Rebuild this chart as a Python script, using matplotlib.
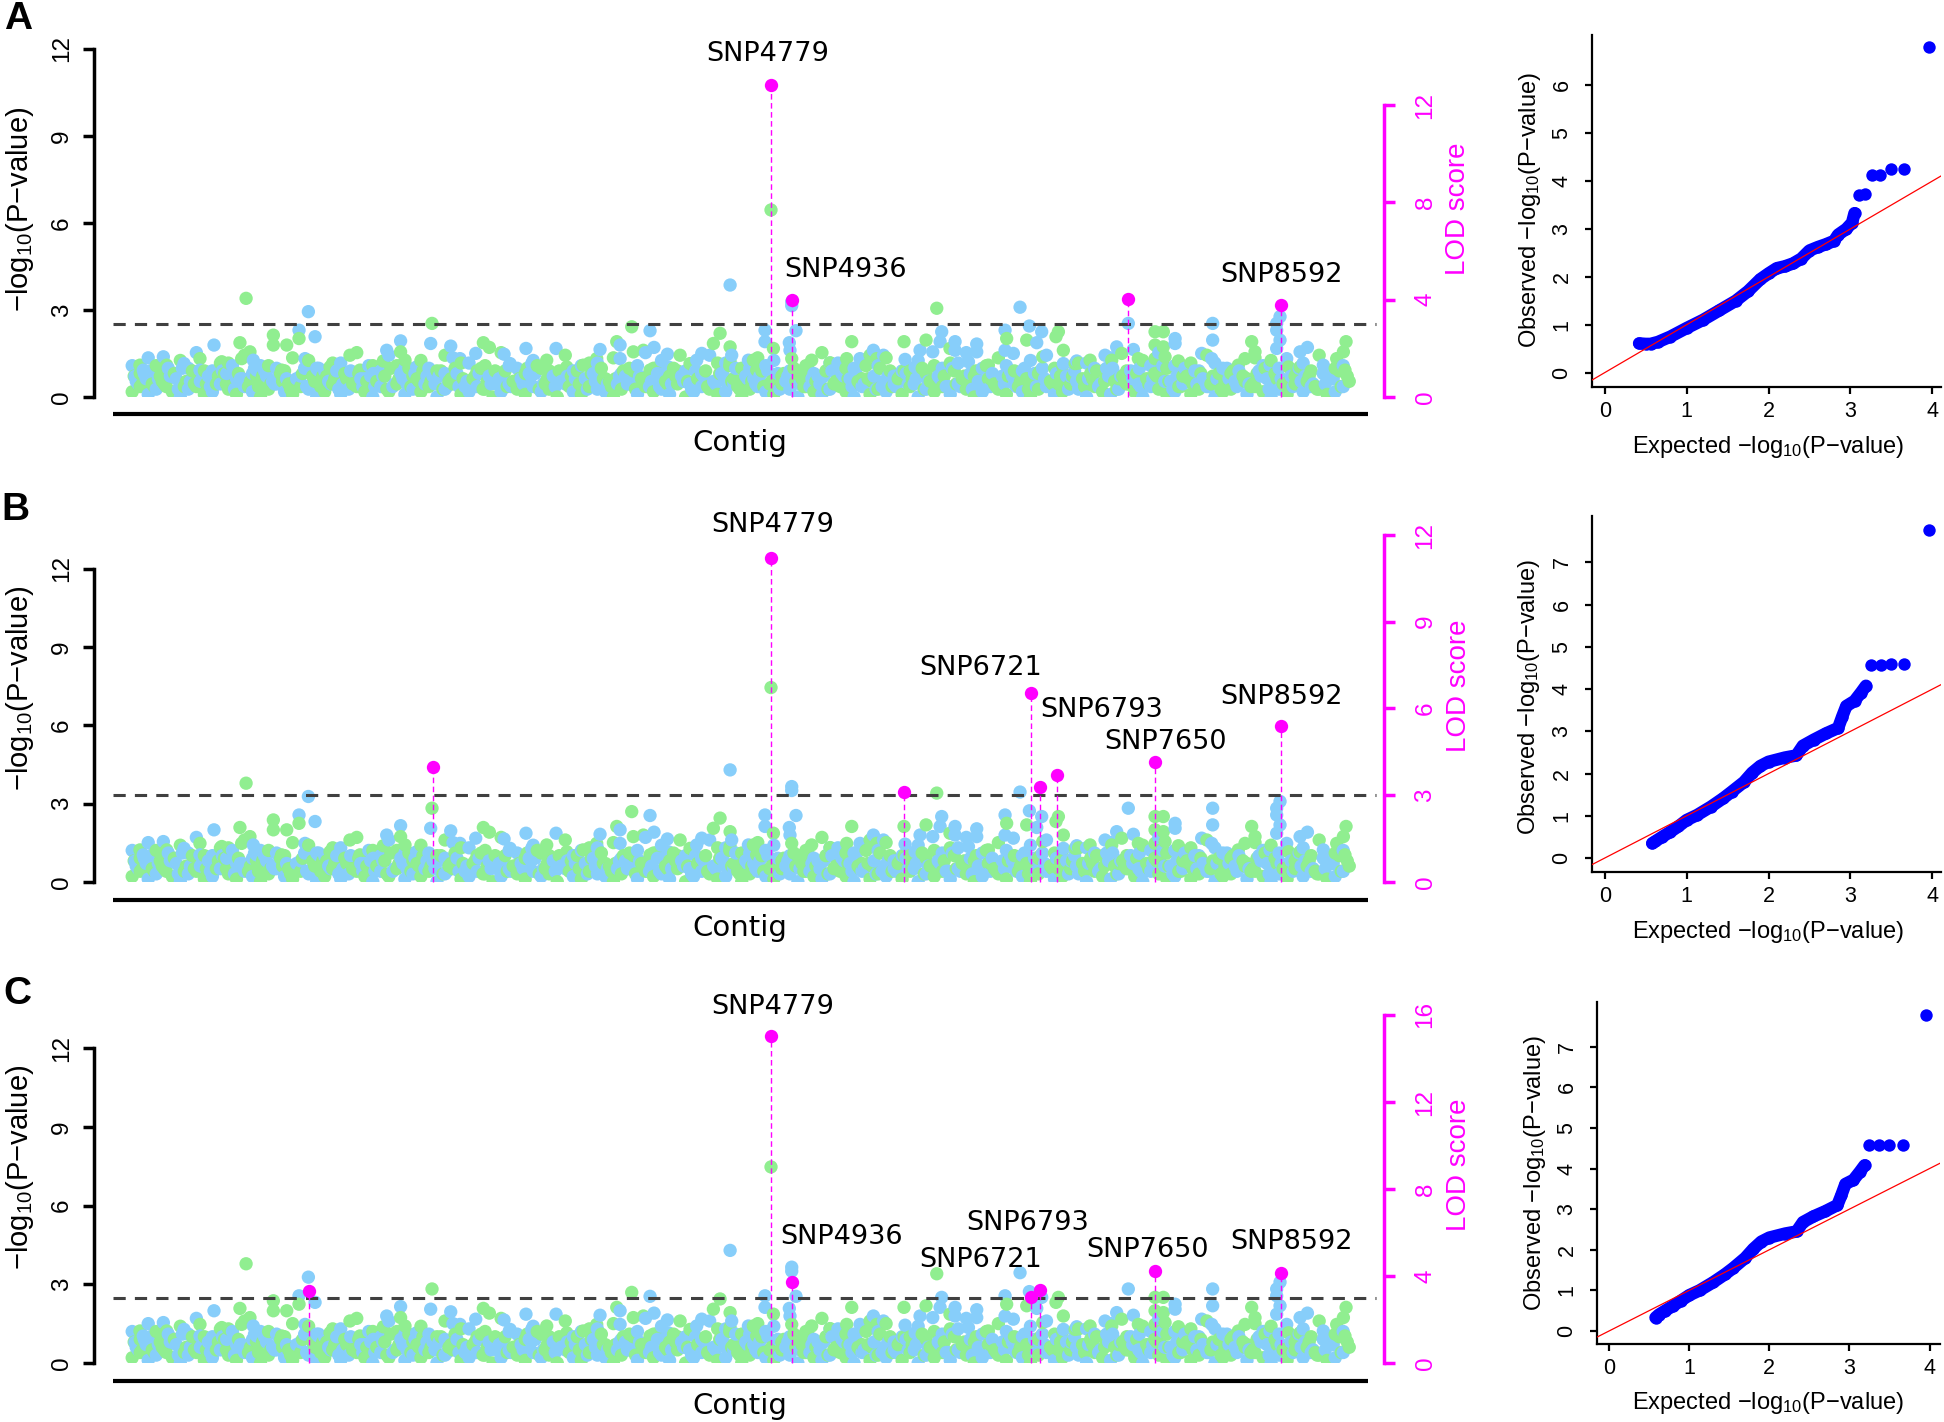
import numpy as np
import matplotlib
matplotlib.use("Agg")
import matplotlib.pyplot as plt
from matplotlib.patches import Rectangle

plt.rcParams['font.family'] = ['Liberation Sans', 'DejaVu Sans']
plt.rcParams['mathtext.fontset'] = 'custom'
plt.rcParams['mathtext.rm'] = 'Liberation Sans'
plt.rcParams['mathtext.it'] = 'Liberation Sans:italic'

W, H = 1944, 1422
GREEN = '#90EE90'
BLUE = '#87CEFA'
MAGENTA = '#FF00FF'

# ---------------- Manhattan background (-log10 p) ----------------
# dense low band, tenths, one SNP every 60 (starting at 0)
grass_low = [2,4,1,3,5,2,0,3,4,1,2,5,3,1,4,2,0,3,5,2,
             1,4,3,0,2,5,1,3,4,2,0,4,2,5,1,3,2,4,0,3,
             5,1,2,4,3,0,2,5,3,1,4,2,3,0,5,2,1,4,3,2,
             0,3,5,1,4,2,3,1,5,0,2,4,3,1,2,5,0,3,4,2,
             1,5,3,0,4,2,1,3,5,2,0,4,1,3,2,5,1,4,0,3,
             2,4,1,5,3,0,2,4,3,1,5,2,0,3,4,1,2,5,3,0,
             4,2,1,3,5,2,0,4,3,1,2,5,1,3,4,0,2,3,5,1,
             4,2,0,3,1,5,2,4,3,1,2,4]
# second low band, tenths, one SNP every 60 (starting at 45)
grass_low2 = [5,7,4,6,8,3,6,5,7,4,8,5,3,7,6,4,8,5,6,3,
              7,4,6,8,5,3,7,5,4,8,6,3,5,7,4,6,8,5,3,7,
              4,6,8,3,5,7,4,6,5,8,3,7,4,6,8,5,3,6,7,4,
              8,5,3,7,6,4,5,8,6,3,7,4,5,8,6,3,7,5,4,6,
              3,8,6,4,7,5,3,6,8,4,5,7,3,6,4,8,5,7,3,6,
              7,4,5,8,3,6,7,4,5,8,6,3,4,7,5,8,3,6,4,7,
              5,8,3,6,7,4,5,8,6,3,4,7,5,6,8,3,7,4,6,5,
              8,3,7,5,4,6,8,3,5,7,4,6]
# middle band, tenths, one SNP every 60 (starting at 30)
grass_mid = [6,9,5,8,11,7,4,10,6,8,5,9,12,7,4,8,10,6,9,5,
             7,11,8,4,6,10,9,5,7,12,6,8,4,9,11,7,5,8,10,6,
             9,4,7,11,8,5,10,6,7,9,12,5,8,6,4,10,7,9,11,6,
             5,8,10,7,4,9,6,11,8,5,7,10,6,9,12,4,8,7,10,5,
             9,6,11,7,4,8,10,5,9,7,6,12,8,4,10,7,9,5,11,6,
             8,4,10,7,9,6,12,5,8,10,4,7,9,11,6,5,8,10,7,9,
             4,11,6,8,10,5,7,9,12,6,4,8,10,7,5,9,11,6,8,4,
             10,7,9,5,8,11,6,4,9,7,10,8]
# second middle band, tenths, one SNP every 60 (starting at 15)
grass_mid2 = [8,5,10,7,4,9,11,6,8,5,7,10,4,9,6,11,8,5,10,7,
              6,9,4,11,8,7,5,10,9,6,4,8,11,7,5,9,10,6,8,4,
              11,7,5,9,6,10,8,4,7,11,9,5,6,10,8,7,4,9,11,5,
              7,10,6,8,4,11,9,5,7,6,10,8,4,9,5,11,7,6,8,10,
              4,9,7,5,11,6,8,10,4,7,9,5,6,11,8,4,10,7,9,6,
              5,8,11,4,7,10,6,9,5,8,4,11,7,10,6,9,5,8,4,7,
              10,6,11,8,5,9,4,7,10,6,8,11,5,9,4,7,6,10,8,5,
              9,11,4,7,6,10,8,5]
# upper band, tenths, one SNP every 120 (starting at 60)
grass_up = [9,12,8,11,10,13,7,9,12,10,8,11,13,9,7,10,12,8,11,9,
            13,10,7,12,9,11,8,10,13,7,9,12,11,8,10,9,13,7,11,12,
            8,10,9,13,11,7,12,8,10,9,11,13,8,7,12,10,9,11,8,13,
            10,7,9,12,11,8,10,13,9,7,12,11,8,10,9,12]
# second upper band, tenths, one SNP every 120 (starting at 0)
grass_up2 = [12,15,11,14,17,10,13,16,12,11,15,14,10,13,17,12,16,11,14,10,
             15,13,12,17,11,14,10,16,12,13,15,11,17,14,10,12,16,13,11,15,
             14,10,12,17,13,11,16,15,10,14,12,13,17,11,15,10,14,16,12,13,
             11,15,10,14,17,12,13,16,11,10,15,14,12,13,16,11]

# taller individual SNPs: index, -log10 p, contig colour (g/b)
top_snp = [852,1318,1248,1248,1368,1056,1056,1156,1293,806,
           881,819,906,612,233,388,507,670,58,21,
           258,1629,1904,1879,2008,2008,2041,2233,2243,1393,
           1480,1804,1704,83,931,1118,507,707,2128,
           4473,3737,3874,3625,3650,3749,3824,3904,3650,4398,
           4348,4473,4485,4473,4261,4004,4099,3500,3475,3171,
           2946,3101,2627,2672,2782,2570,2383,2452,2340,2827,
           2989,3251,3375,4223,4610,4672,4173,4011,3874,
           4934,4934,4734,4734,4797,4966,4916,4921,4934,5383,
           5774,5782,6019,6056,5939,6044,5894,5989,6156,6318,
           6318,6156,6118,5545,5620,5570,5445,5345,5083,5221,
           6642,6530,6542,6530,6592,6712,6692,6767,6804,6812,
           6929,6911,6966,5857,6405,6256,6966,7054,4647,
           7452,8083,8083,8076,8001,7652,7714,7652,7714,7652,
           7727,7802,7802,7827,8587,8562,8562,8587,8562,8375,
           8400,8325,8275,8792,8737,9081,9061,9011,9073,8911,
           7365,7278,7403,7328,7490,7527,7535,7166,7066,8637,
           8650,8737,8512,8188]
top_val = [3.78,3.27,2.56,2.24,2.31,2.37,1.99,1.99,1.47,2.08,
           1.73,1.47,1.41,1.99,1.54,1.28,1.47,1.35,1.22,0.79,
           1.22,1.60,1.79,1.38,2.15,1.73,1.41,2.05,2.82,1.03,
           1.15,0.90,1.03,1.03,1.03,1.03,1.03,0.90,1.15,
           4.29,2.69,2.54,2.12,1.99,1.73,1.79,1.90,1.47,2.44,
           2.05,1.92,1.60,1.35,1.67,1.64,1.60,1.82,1.47,1.86,
           1.86,1.41,2.08,1.90,1.64,1.67,1.95,1.47,1.60,1.28,
           1.28,1.15,1.22,1.41,1.41,1.03,1.28,1.15,1.03,
           3.65,3.50,2.56,2.12,1.86,2.54,2.08,1.79,1.47,2.12,
           2.12,1.44,3.40,2.50,2.18,2.12,1.79,1.73,2.12,2.03,
           1.73,1.79,1.86,1.79,1.60,1.47,1.47,1.47,1.41,1.31,
           3.44,2.56,2.24,1.79,1.67,2.72,2.18,2.08,2.50,1.54,
           2.50,2.31,1.79,1.15,1.22,1.35,1.28,1.28,1.41,
           2.82,2.82,2.18,1.47,1.67,2.50,2.50,1.99,1.92,1.47,
           1.54,2.24,2.05,1.38,3.08,2.82,2.56,2.18,1.86,2.12,
           1.73,1.47,1.22,1.90,1.73,2.12,1.73,1.47,1.03,1.22,
           1.92,1.60,1.67,1.41,1.82,1.47,1.09,1.41,1.38,1.47,
           1.15,1.15,1.22,1.03]
top_col = list("gbbgbgggbg" "ggbbbbgggb" "ggbgbggbgb" "gbgbbgbbb"
               "bgbgbggbbg" "ggbgbbgbgb" "bgggbbbbgb" "bggbbggbg"
               "bbbbgbbbgg" "gbgbgbbbbb" "bbgbbgbggg" "bbgbbbgbbg" "gggbgbbgg"
               "bbbbbggggg" "gbbgbbbbbg" "gggbbggggb" "bbggbgbgbb" "ggbb")

# green SNP sitting under SNP4779 in each panel (-log10 p)
peak_green_snp = 4779
peak_green_val = {'A': 6.45, 'B': 7.45, 'C': 7.47}
# panel A background reads about 10 % lower than B/C on its own axis
bg_scale = {'A': 0.9, 'B': 1.0, 'C': 1.0}
threshold = {'A': 2.52, 'B': 3.33, 'C': 2.48}

# LOD scores of the linkage SNPs (magenta)
lod_snp = {'A': [4779, 4936, 7450, 8592],
           'B': [2248, 4779, 5774, 6721, 6793, 6921, 7650, 8592],
           'C': [1320, 4779, 4936, 6721, 6793, 7650, 8592]}
lod_val = {'A': [12.83, 3.98, 4.02, 3.77],
           'B': [3.96, 11.21, 3.09, 6.54, 3.27, 3.69, 4.13, 5.38],
           'C': [3.29, 15.04, 3.71, 3.03, 3.37, 4.21, 4.13]}
lod_labels = {'A': ['SNP4779', 'SNP4936', None, 'SNP8592'],
              'B': [None, 'SNP4779', None, 'SNP6721', 'SNP6793', None, 'SNP7650', 'SNP8592'],
              'C': [None, 'SNP4779', 'SNP4936', 'SNP6721', 'SNP6793', 'SNP7650', 'SNP8592']}

# ---------------- QQ plots: expected vs observed -log10 p ----------------
qq_exp = {'A': [0.42,0.50,0.56,0.65,0.80,1.00,1.20,1.40,1.60,1.75,1.90,2.00,2.10,
                2.20,2.30,2.40,2.50,2.60,2.70,2.80,2.85,2.95,3.02,3.05],
          'B': [0.58,0.62,0.70,0.80,0.90,1.00,1.13,1.30,1.45,1.55,1.70,1.80,1.90,
                2.00,2.20,2.34,2.42,2.55,2.70,2.85,2.90,2.95,3.05,3.13,3.19],
          'C': [0.58,0.62,0.70,0.80,0.90,1.00,1.13,1.30,1.45,1.55,1.70,1.80,1.90,
                2.00,2.20,2.34,2.42,2.55,2.70,2.85,2.90,2.95,3.05,3.13,3.19]}
qq_obs = {'A': [0.61,0.60,0.60,0.64,0.75,0.93,1.10,1.30,1.50,1.70,1.95,2.07,2.18,
                2.22,2.28,2.38,2.55,2.62,2.68,2.75,2.88,3.00,3.13,3.33],
          'B': [0.35,0.40,0.50,0.62,0.75,0.90,1.02,1.22,1.42,1.57,1.80,2.02,2.18,
                2.28,2.38,2.43,2.66,2.80,2.95,3.08,3.35,3.60,3.72,3.92,4.08],
          'C': [0.33,0.40,0.50,0.62,0.75,0.88,1.00,1.20,1.40,1.55,1.80,2.02,2.20,
                2.30,2.40,2.45,2.68,2.82,2.95,3.10,3.35,3.62,3.72,3.92,4.08]}
qq_tail_exp = {'A': [3.10,3.18,3.26,3.36,3.49,3.66,3.96],
               'B': [3.25,3.37,3.49,3.66,3.96],
               'C': [3.25,3.37,3.49,3.67,3.96]}
qq_tail_obs = {'A': [3.70,3.72,4.13,4.13,4.26,4.26,6.80],
               'B': [4.57,4.57,4.59,4.59,7.76],
               'C': [4.57,4.57,4.58,4.58,7.79]}

# ---------------- layout (pixels of the 1944x1422 canvas) ----------------
man = {'A': dict(top=20, bottom=425, zero=397, ppu=29.0, lod_ppu=24.33, lod_top=12,
                 lod_ticks=[0, 4, 8, 12], line_y=414, ylab=(20, 209), lodlab=(1458, 209),
                 contig=(740, 443), letter=(18, 19)),
       'B': dict(top=500, bottom=910, zero=881.7, ppu=26.06, lod_ppu=28.89, lod_top=12,
                 lod_ticks=[0, 3, 6, 9, 12], line_y=900, ylab=(20, 688), lodlab=(1459, 686),
                 contig=(740, 928), letter=(15, 510)),
       'C': dict(top=985, bottom=1390, zero=1363, ppu=26.25, lod_ppu=21.75, lod_top=16,
                 lod_ticks=[0, 4, 8, 12, 16], line_y=1381, ylab=(20, 1167), lodlab=(1459, 1165),
                 contig=(740, 1406), letter=(17, 994))}
label_off = {'A': {'SNP4779': (-3, 31), 'SNP4936': (54, 30), 'SNP8592': (1, 30)},
             'B': {'SNP4779': (2, 33), 'SNP6721': (-50, 25), 'SNP6793': (61, 77),
                   'SNP7650': (11, 20), 'SNP8592': (1, 29)},
             'C': {'SNP4779': (2, 29), 'SNP4936': (50, 45), 'SNP6721': (-50, 37),
                   'SNP6793': (-13, 67), 'SNP7650': (-7, 21), 'SNP8592': (11, 31)}}
qq = {'A': dict(box=(1592, 35, 1941, 387), xlim=(-0.155, 4.106), ylim=(-0.30, 7.05),
                yticks=range(0, 7), ylab=(1530, 210), xlab=(1768, 447)),
      'B': dict(box=(1592, 516, 1941, 872), xlim=(-0.155, 4.106), ylim=(-0.33, 8.1),
                yticks=range(0, 8), ylab=(1529, 697), xlab=(1768, 932)),
      'C': dict(box=(1597, 1002, 1940, 1344), xlim=(-0.15, 4.13), ylim=(-0.32, 8.1),
                yticks=range(0, 8), ylab=(1535, 1173), xlab=(1768, 1403))}

X0_PX, PX_PER_SNP = 132.2, 0.13367
AX_L, AX_R = 94, 1384

fig = plt.figure(figsize=(W / 100, H / 100), dpi=100)


def box(x0, y0, x1, y1):
    return fig.add_axes([x0 / W, 1 - y1 / H, (x1 - x0) / W, (y1 - y0) / H])


def ftext(x, y, s, **kw):
    fig.text(x / W, 1 - y / H, s, ha='center', va='center', **kw)


def snp_at(px):
    return (px - X0_PX) / PX_PER_SNP


# assemble background
bx, by, bc = [], [], []
layers = [(grass_low, 0, 60, 0), (grass_low2, 45, 60, 1), (grass_mid, 30, 60, 1),
          (grass_mid2, 15, 60, 0), (grass_up, 60, 120, 0), (grass_up2, 0, 120, 1)]
for vals, start, step, flip in layers:
    for i, v in enumerate(vals):
        bx.append(start + step * i)
        by.append(v / 10)
        bc.append(GREEN if ((i // 2) + flip) % 2 == 0 else BLUE)
for s, v, c in zip(top_snp, top_val, top_col):
    bx.append(s); by.append(v); bc.append(GREEN if c == 'g' else BLUE)
bx = np.array(bx, float); by = np.array(by, float); bc = np.array(bc)

ylabel = '\u2212log$_{10}$(P\u2212value)'
DOT = 92

for p in ['A', 'B', 'C']:
    L = man[p]
    ax = box(AX_L, L['top'], AX_R, L['bottom'])
    x_lo, x_hi = snp_at(AX_L), snp_at(AX_R)
    ax.set_xlim(x_lo, x_hi)
    ax.set_ylim((L['zero'] - L['bottom']) / L['ppu'], (L['zero'] - L['top']) / L['ppu'])
    ax.patch.set_visible(False)

    xs = np.append(bx, peak_green_snp)
    ys = np.append(by * bg_scale[p], peak_green_val[p])
    cs = np.append(bc, GREEN)
    order = np.argsort(xs, kind='stable')
    sc = ax.scatter(xs[order], ys[order], s=DOT, c=cs[order], linewidths=0, zorder=2)
    sc.set_clip_path(Rectangle((x_lo, 0), x_hi - x_lo, 30, transform=ax.transData))

    ax.hlines(threshold[p], snp_at(113), snp_at(1376), colors='#404040',
              linestyles=(0, (4, 3)), lw=2.2, zorder=3)
    yl = (L['zero'] - L['line_y']) / L['ppu']
    ax.plot([snp_at(113), snp_at(1368)], [yl, yl], color='black', lw=3,
            solid_capstyle='butt', clip_on=False)

    for side in ['top', 'right', 'bottom']:
        ax.spines[side].set_visible(False)
    ax.spines['left'].set_bounds(0, 12)
    ax.spines['left'].set_linewidth(2.5)
    ax.set_xticks([])
    ax.set_yticks([0, 3, 6, 9, 12])
    ax.tick_params(axis='y', width=2.5, length=8, labelsize=17.5, pad=7, labelrotation=90)
    for t in ax.get_yticklabels():
        t.set_va('center')

    ax2 = ax.twinx()
    ax2.set_ylim((L['zero'] - L['bottom']) / L['lod_ppu'], (L['zero'] - L['top']) / L['lod_ppu'])
    for side in ['top', 'left', 'bottom']:
        ax2.spines[side].set_visible(False)
    ax2.spines['right'].set_bounds(0, L['lod_top'])
    ax2.spines['right'].set_color(MAGENTA)
    ax2.spines['right'].set_linewidth(2.5)
    ax2.set_yticks(L['lod_ticks'])
    ax2.tick_params(axis='y', colors=MAGENTA, width=2.5, length=8, labelsize=17.5, pad=14,
                    labelrotation=90)
    for t in ax2.get_yticklabels():
        t.set_va('center')

    ax2.vlines(lod_snp[p], 0, lod_val[p], colors=MAGENTA, linestyles=(0, (4, 2.5)), lw=1.0)
    ax2.scatter(lod_snp[p], lod_val[p], s=DOT, color=MAGENTA, linewidths=0, zorder=4)
    for s, v, lab in zip(lod_snp[p], lod_val[p], lod_labels[p]):
        if lab:
            ax2.annotate(lab, (s, v), xytext=label_off[p][lab], textcoords='offset pixels',
                         ha='center', va='center', fontsize=19.5, family='DejaVu Sans')

    ftext(*L['ylab'], ylabel, rotation=90, fontsize=21)
    ftext(*L['lodlab'], 'LOD score', rotation=90, fontsize=20, color=MAGENTA)
    ftext(*L['contig'], 'Contig', fontsize=21, family='DejaVu Sans')
    ftext(*L['letter'], p, fontsize=28, fontweight='bold')

    # QQ plot
    Q = qq[p]
    qa = box(*Q['box'])
    qa.set_xlim(*Q['xlim'])
    qa.set_ylim(*Q['ylim'])
    qa.plot(qq_exp[p], qq_obs[p], color='#0000FF', lw=9, solid_capstyle='round',
            solid_joinstyle='round', zorder=2)
    qa.scatter(qq_exp[p], qq_obs[p], s=80, color='#0000FF', linewidths=0, zorder=2)
    qa.scatter(qq_tail_exp[p], qq_tail_obs[p], s=80, color='#0000FF', linewidths=0, zorder=2)
    qa.axline((0, 0), slope=1, color='red', lw=0.9, zorder=3)
    for side in ['top', 'right']:
        qa.spines[side].set_visible(False)
    for side in ['left', 'bottom']:
        qa.spines[side].set_linewidth(1.6)
    qa.set_xticks(range(0, 5))
    qa.set_yticks(list(Q['yticks']))
    qa.tick_params(width=1.6, length=5, labelsize=15.5)
    qa.tick_params(axis='x', pad=5)
    qa.tick_params(axis='y', labelrotation=90, pad=9)
    for t in qa.get_yticklabels():
        t.set_va('center')
    ftext(*Q['ylab'], 'Observed ' + ylabel, rotation=90, fontsize=17)
    ftext(*Q['xlab'], 'Expected ' + ylabel, fontsize=17)

fig.savefig('out.png', dpi=100)
